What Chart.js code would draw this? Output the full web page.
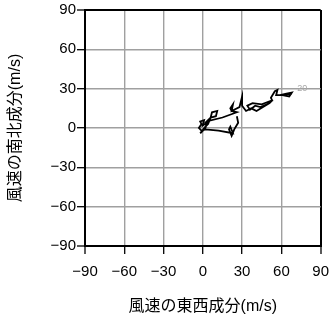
<!DOCTYPE html>
<html><head><meta charset="utf-8">
<script src="https://cdn.jsdelivr.net/npm/chart.js@4"></script>
<style>html,body{margin:0;padding:0;background:#fff;}canvas{display:block;}</style>
</head><body>
<canvas id="c" width="331" height="318"></canvas>
<script>
// wind components (m/s)
const uValues = [26,27,24,22,20,21,23,12,2,-1,-3,-1,-2,1,0,3,2,-1,1,-2,2,4,6,7,11,10,6,3,15,26,22,21,23,22,28,30,30,33,37,41,46,51,53,49,44,40,36,34,38,45,50,53,52,55,57,56,59,63,68,66,61,68];
const vValues = [9,4,-1,-6,-1,1,-4,-2,-1,-2,0,3,5,6,2,4,0,-3,-1,-4,1,3,8,12,13,9,8,5,8,12,13,15,18,13,16,24,17,13,15,13,16,19,21,18,16,17,14,17,19,18,20,21,23,28,29,25,25,26,27,24,25,26];
const tickValues = [-90,-60,-30,0,30,60,90];
const xTitle = '風速の東西成分(m/s)';
const yTitle = '風速の南北成分(m/s)';
const labelTexts = ['20'];
const labelU = [76];
const labelV = [30];

const FONT = "'Liberation Sans', 'Noto Sans CJK JP', sans-serif";
const n = Math.min(uValues.length, vValues.length);
const pts = [];
for (let i = 0; i < n; i++) pts.push({x: uValues[i], y: vValues[i]});

const fmt = v => (v < 0 ? '\u2212' + Math.abs(v) : String(v));
const gridColor = ctx => (ctx.tick && Math.abs(ctx.tick.value) === 90) ? '#000' : '#a0a0a0';
const gridWidth = ctx => (ctx.tick && Math.abs(ctx.tick.value) === 90) ? 2 : 1.4;

const labelPlugin = {
  id: 'pointLabels',
  afterDatasetsDraw(chart) {
    const {ctx, scales} = chart;
    ctx.save();
    ctx.fillStyle = '#a8a8a8';
    ctx.font = '9px ' + FONT;
    ctx.textAlign = 'center';
    ctx.textBaseline = 'middle';
    labelTexts.forEach((t, i) => {
      ctx.fillText(t, scales.x.getPixelForValue(labelU[i]), scales.y.getPixelForValue(labelV[i]));
    });
    ctx.restore();
  }
};

const axisCommon = {
  type: 'linear', min: -90, max: 90,
  afterBuildTicks: s => { s.ticks = tickValues.map(v => ({value: v})); },
  grid: { color: gridColor, lineWidth: gridWidth, tickColor: '#000', tickWidth: 1.3, tickLength: 8, drawTicks: true },
  border: { display: true, color: '#000', width: 2 }
};

new Chart(document.getElementById('c'), {
  type: 'scatter',
  data: { datasets: [{ data: pts, showLine: true, borderColor: '#000', borderWidth: 1.8, pointRadius: 0, tension: 0, fill: false }] },
  options: {
    responsive: false, devicePixelRatio: 1, animation: false,
    layout: { padding: { top: 8, right: 3, left: 0, bottom: 0 } },
    plugins: { legend: { display: false }, tooltip: { enabled: false } },
    scales: {
      x: Object.assign({}, axisCommon, {
        afterFit: s => { s.height = 72; },
        ticks: { callback: v => fmt(v), color: '#000', font: { family: FONT, size: 15, lineHeight: 2.13 }, padding: 2, maxRotation: 0, autoSkip: false },
        title: { display: true, text: xTitle, color: '#000', font: { family: FONT, size: 16 }, padding: { top: 0, bottom: 2 } }
      }),
      y: Object.assign({}, axisCommon, {
        afterFit: s => { s.width = 85; },
        ticks: { callback: v => fmt(v), color: '#000', font: { family: FONT, size: 15 }, padding: 1, autoSkip: false },
        title: { display: true, text: yTitle, color: '#000', font: { family: FONT, size: 16 }, padding: { top: 6, bottom: 0 } }
      })
    }
  },
  plugins: [labelPlugin]
});
</script>
</body></html>
